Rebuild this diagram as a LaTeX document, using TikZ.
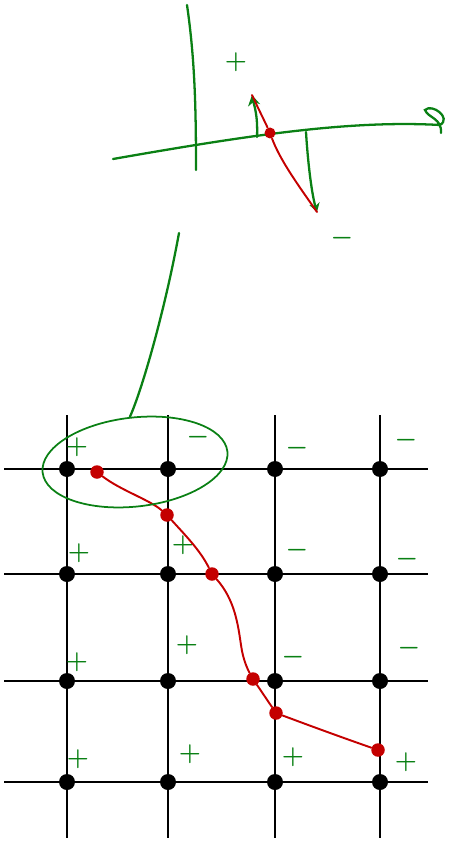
\documentclass[tikz,border=0pt]{standalone}
\usetikzlibrary{arrows.meta,shapes.geometric}
\definecolor{inkgreen}{RGB}{10,128,20}
\definecolor{inkred}{RGB}{196,0,0}
\begin{document}
\begin{tikzpicture}[x=0.02cm,y=-0.02cm,
  gridline/.style={line width=1.2pt},
  gdot/.style={circle, fill=black, inner sep=0pt, minimum size=0.32cm},
  rdot/.style={circle, fill=inkred, inner sep=0pt, minimum size=0.27cm},
  gink/.style={inkgreen, line width=1.3pt, line cap=round},
  rink/.style={inkred, line width=1.1pt, line cap=round},
  sgn/.style={inkgreen, font=\Large\boldmath}]
\useasboundingbox (0,0) rectangle (450,841);
\foreach \x in {67,168,275,380}
  \draw[gridline] (\x,415) -- (\x,838);
\foreach \y in {469,574,681,782}
  \draw[gridline] (4,\y) -- (428,\y);
\foreach \x [count=\i] in {67,168,275,380}
  \foreach \y [count=\j] in {469,574,681,782}
    \node[gdot] (d-\i-\j) at (\x,\y) {};
\node[sgn] (s11) at (77,447) {$+$};
\node[sgn] (s21) at (198,437) {$-$};
\node[sgn] (s31) at (297,448) {$-$};
\node[sgn] (s41) at (406,440) {$-$};
\node[sgn] (s12) at (79,553) {$+$};
\node[sgn] (s22) at (183,545) {$+$};
\node[sgn] (s32) at (297,550) {$-$};
\node[sgn] (s42) at (407,559) {$-$};
\node[sgn] (s13) at (77,662) {$+$};
\node[sgn] (s23) at (187,645) {$+$};
\node[sgn] (s33) at (293,657) {$-$};
\node[sgn] (s43) at (409,648) {$-$};
\node[sgn] (s14) at (78,759) {$+$};
\node[sgn] (s24) at (190,754) {$+$};
\node[sgn] (s34) at (293,757) {$+$};
\node[sgn] (s44) at (406,762) {$+$};
\node[rdot] (r1) at (97,472) {};
\node[rdot] (r2) at (167,515) {};
\node[rdot] (r3) at (212,574) {};
\node[rdot] (r4) at (253,679) {};
\node[rdot] (r5) at (276,713) {};
\node[rdot] (r6) at (378,750) {};
\draw[rink] (r1) .. controls (120,490) and (150,500) .. (r2);
\draw[rink] (r2) .. controls (185,535) and (200,550) .. (r3);
\draw[rink] (r3) .. controls (235,600) and (238,625) .. (241,645) .. controls (243,660) and (248,670) .. (r4);
\draw[rink] (r4) -- (r5);
\draw[rink] (r5) .. controls (300,722) and (335,735) .. (r6);
\node[draw=inkgreen, line width=1pt, ellipse, minimum width=3.72cm, minimum height=1.78cm, rotate=6.5] (zoomed) at (135,462) {};
\coordinate (lens) at (179,233);
\draw[gink] (zoomed.north) .. controls (142,390) and (165,310) .. (lens);
\draw[gink] (187,5) .. controls (195,60) and (196,110) .. (196,170);
\draw[gink] (113,159) .. controls (250,135) and (350,120) .. (440,125) .. controls (452,118) and (432,103) .. (425,110) .. controls (428,118) and (442,118) .. (441,133);
\coordinate (vp) at (252,95);
\coordinate (vm) at (317,212);
\draw[gink, -{Stealth[length=6pt,width=7pt]}] (257,137) .. controls (258,115) and (254,105) .. (vp);
\draw[gink, -{Stealth[length=5pt,width=6pt]}] (306,132) .. controls (308,165) and (312,195) .. (vm);
\node[rdot, minimum size=0.22cm] (z) at (270,133) {};
\draw[rink] (vp) .. controls (258,108) and (265,122) .. (z);
\draw[rink] (z) .. controls (280,160) and (298,185) .. (vm);
\node[sgn] (sp) at (236,62) {$+$};
\node[sgn] (sm) at (342,238) {$-$};
\end{tikzpicture}
\end{document}
